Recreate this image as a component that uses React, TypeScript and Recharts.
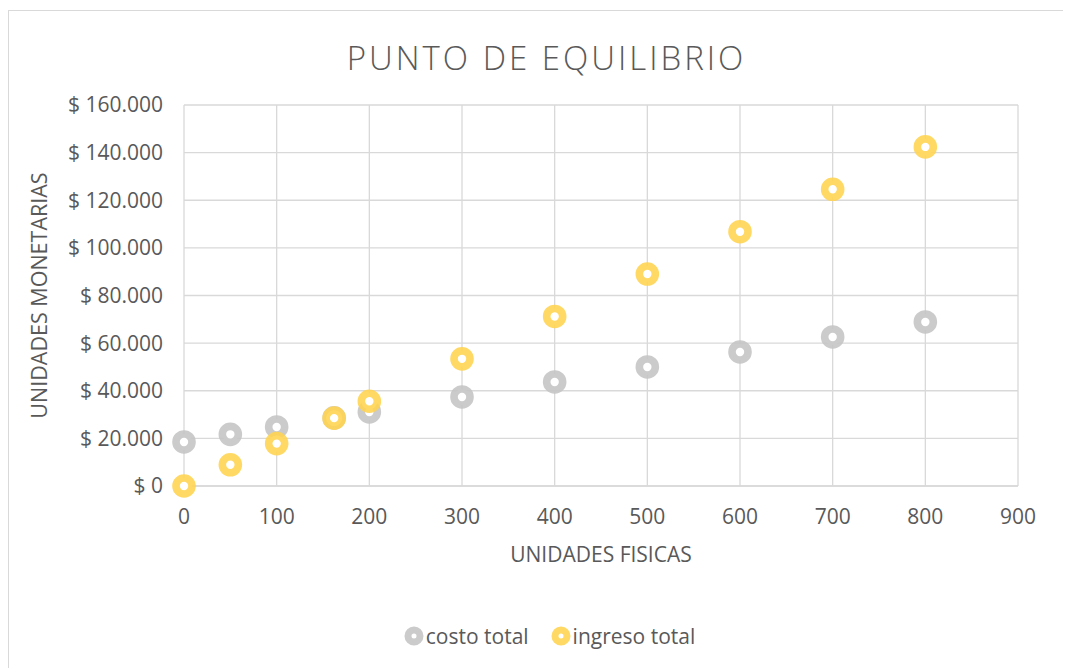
import * as React from 'react';
import { ScatterChart, Scatter, XAxis, YAxis, CartesianGrid } from 'recharts';

// unidades físicas (eje X)
const unidades = [0, 50, 100, 162, 200, 300, 400, 500, 600, 700, 800];
// valores
const costoTotal = [18500, 21700, 24800, 28600, 31100, 37400, 43700, 50000, 56300, 62600, 68900];
const ingresoTotal = [0, 8900, 17800, 28500, 35600, 53400, 71200, 89000, 106800, 124600, 142400];

const xTicks = [0, 100, 200, 300, 400, 500, 600, 700, 800, 900];
const yTicks = [0, 20000, 40000, 60000, 80000, 100000, 120000, 140000, 160000];

const GRAY = '#c4c4c4';
const YELLOW = '#ffd44f';
const TEXT = '#595959';
const FONT = '"Open Sans", sans-serif';

const costoData = unidades.map((u, i) => ({ x: u, y: costoTotal[i] }));
const ingresoData = unidades.map((u, i) => ({ x: u, y: ingresoTotal[i] }));

const formatMoney = (v: number) =>
  '$ ' + String(v).replace(/\B(?=(\d{3})+(?!\d))/g, '.');

function Ring(color: string) {
  return (props: any) => (
    <circle
      cx={props.cx}
      cy={props.cy}
      r={8}
      fill="#ffffff"
      stroke={color}
      strokeWidth={7.6}
      strokeOpacity={0.88}
    />
  );
}

function YTitle(props: any) {
  const { viewBox } = props;
  const x = 29;
  const y = viewBox.y + viewBox.height / 2;
  return (
    <text
      x={x}
      y={y}
      transform={`rotate(-90, ${x}, ${y})`}
      textAnchor="middle"
      dominantBaseline="central"
      fill={TEXT}
      fontSize={21.5}
      fontFamily={FONT}
    >
      UNIDADES MONETARIAS
    </text>
  );
}

function XTitle(props: any) {
  const { viewBox } = props;
  return (
    <text
      x={viewBox.x + viewBox.width / 2}
      y={543}
      textAnchor="middle"
      dominantBaseline="central"
      fill={TEXT}
      fontSize={21}
      fontFamily={FONT}
    >
      UNIDADES FISICAS
    </text>
  );
}

function LegendItem({ color, label }: { color: string; label: string }) {
  return (
    <span style={{ display: 'inline-flex', alignItems: 'center', marginRight: 22 }}>
      <svg width={20} height={20} style={{ marginRight: 2 }}>
        <circle cx={10} cy={10} r={6} fill="#fff" stroke={color} strokeWidth={7} strokeOpacity={0.88} />
      </svg>
      {label}
    </span>
  );
}

export default function App() {
  return (
    <div
      style={{
        position: 'relative',
        width: 1063,
        height: 658,
        marginTop: 2,
        border: '1px solid #d9d9d9',
        borderRight: 'none',
        background: '#fff',
        fontFamily: FONT,
      }}
    >
      <div
        style={{
          position: 'absolute',
          left: 0,
          width: 1075,
          top: 24,
          textAlign: 'center',
          fontSize: 33,
          fontWeight: 300,
          letterSpacing: 3,
          color: TEXT,
        }}
      >
        PUNTO DE EQUILIBRIO
      </div>
      <ScatterChart
        width={1061}
        height={656}
        margin={{ top: 94, right: 52, left: 0, bottom: 101 }}
      >
        <CartesianGrid stroke="#d9d9d9" strokeWidth={1.3} />
        <XAxis
          type="number"
          dataKey="x"
          domain={[0, 900]}
          ticks={xTicks}
          interval={0}
          height={80}
          axisLine={{ stroke: '#d9d9d9', strokeWidth: 1.3 }}
          tickLine={false}
          tickSize={0}
          tickMargin={23}
          tick={{ fill: TEXT, fontSize: 21, fontFamily: FONT }}
          label={<XTitle />}
        />
        <YAxis
          type="number"
          dataKey="y"
          domain={[0, 160000]}
          ticks={yTicks}
          interval={0}
          width={175}
          axisLine={false}
          tickLine={false}
          tickSize={0}
          tickMargin={21}
          tickFormatter={formatMoney}
          tick={{ fill: TEXT, fontSize: 21, fontFamily: FONT }}
          label={<YTitle />}
        />
        <Scatter
          name="costo total"
          data={costoData}
          shape={Ring(GRAY)}
          isAnimationActive={false}
        />
        <Scatter
          name="ingreso total"
          data={ingresoData}
          shape={Ring(YELLOW)}
          isAnimationActive={false}
        />
      </ScatterChart>
      <div
        style={{
          position: 'absolute',
          left: 0,
          width: 1063,
          top: 611,
          textAlign: 'center',
          fontSize: 21,
          color: TEXT,
          paddingLeft: 20,
        }}
      >
        <LegendItem color={GRAY} label="costo total" />
        <LegendItem color={YELLOW} label="ingreso total" />
      </div>
    </div>
  );
}
